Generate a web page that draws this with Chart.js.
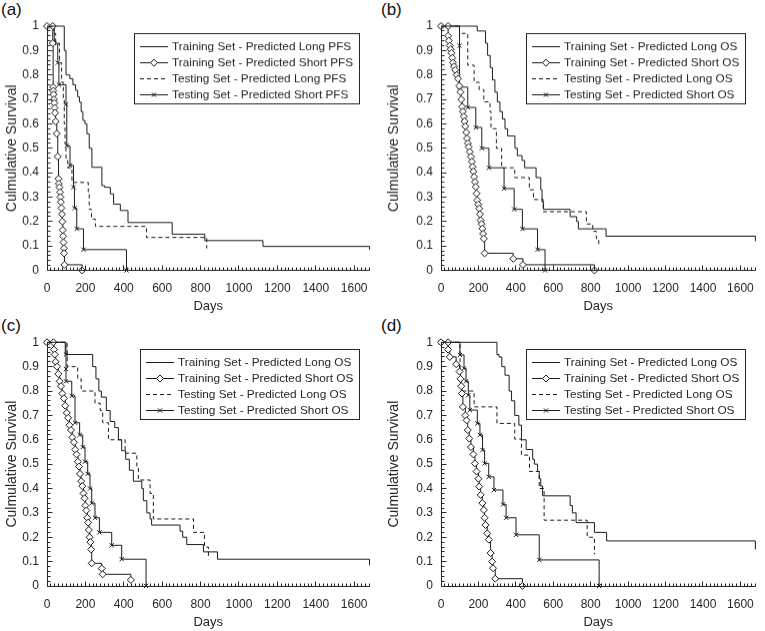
<!DOCTYPE html>
<html>
<head>
<meta charset="utf-8">
<script src="https://cdn.jsdelivr.net/npm/chart.js@4.4.1/dist/chart.umd.min.js"></script>
<style>
  body { margin: 0; background: #fff; width: 765px; height: 631px; position: relative; overflow: hidden;
         font-family: "Liberation Sans", Arial, sans-serif; }
  .panel { position: absolute; }
  .tag { position: absolute; font-size: 17px; line-height: 1; color: #111; }
</style>
</head>
<body>
<div class="tag" style="left:1px;top:1px">(a)</div>
<div class="tag" style="left:381px;top:1px">(b)</div>
<div class="tag" style="left:1px;top:317px">(c)</div>
<div class="tag" style="left:381px;top:317px">(d)</div>

<div class="panel" id="boxA"><canvas id="chartA"></canvas></div>
<div class="panel" id="boxB"><canvas id="chartB"></canvas></div>
<div class="panel" id="boxC"><canvas id="chartC"></canvas></div>
<div class="panel" id="boxD"><canvas id="chartD"></canvas></div>

<script>
// legend texts
const labelsPFS = ['Training Set - Predicted Long PFS', 'Training Set - Predicted Short PFS',
                   'Testing Set - Predicted Long PFS', 'Testing Set - Predicted Short PFS'];
const labelsOS = ['Training Set - Predicted Long OS', 'Training Set - Predicted Short OS',
                  'Testing Set - Predicted Long OS', 'Testing Set - Predicted Short OS'];

const xTicks = [0, 200, 400, 600, 800, 1000, 1200, 1400, 1600];
const yTicks = [0, 0.1, 0.2, 0.3, 0.4, 0.5, 0.6, 0.7, 0.8, 0.9, 1];

// (a) PFS
const daysTrainLongA = [0, 90, 99, 108, 119, 135, 149, 160, 169, 178, 187, 198, 208, 220, 234, 286, 300, 330, 347, 382, 422, 652, 822, 1125, 1680];
const survTrainLongA = [1, 0.9, 0.8, 0.8, 0.785, 0.76, 0.737, 0.71, 0.689, 0.65, 0.614, 0.6, 0.559, 0.5, 0.422, 0.347, 0.34, 0.313, 0.271, 0.245, 0.196, 0.148, 0.122, 0.098, 0.085];
const daysTrainShortA = [0, 30, 30, 32, 33, 34, 36, 38, 40, 42, 45, 51, 56, 60, 62, 65, 68, 70, 72, 75, 78, 80, 82, 84, 86, 88, 89, 91, 183];
const survTrainShortA = [1, 1, 0.93, 0.75, 0.735, 0.72, 0.70, 0.685, 0.665, 0.645, 0.61, 0.56, 0.466, 0.375, 0.355, 0.34, 0.32, 0.30, 0.28, 0.255, 0.23, 0.2, 0.165, 0.14, 0.115, 0.09, 0.07, 0.023, 0];
const daysTestLongA = [0, 33, 45, 65, 76, 85, 90, 94, 99, 108, 130, 215, 220, 232, 252, 518, 832];
const survTestLongA = [1, 0.97, 0.93, 0.85, 0.77, 0.7, 0.6, 0.52, 0.45, 0.42, 0.36, 0.32, 0.25, 0.21, 0.18, 0.135, 0.09];
const daysTestShortA = [0, 38, 56, 62, 99, 103, 120, 138, 143, 155, 190, 414];
const survTestShortA = [1, 0.93, 0.85, 0.76, 0.68, 0.51, 0.43, 0.34, 0.255, 0.17, 0.085, 0];

// (b) OS
const daysTrainLongB = [0, 194, 238, 249, 263, 275, 288, 301, 315, 328, 342, 356, 395, 408, 433, 447, 508, 533, 540, 548, 690, 725, 734, 882, 1680];
const survTrainLongB = [1, 0.98, 0.93, 0.88, 0.83, 0.78, 0.73, 0.69, 0.65, 0.62, 0.58, 0.55, 0.5, 0.47, 0.45, 0.42, 0.38, 0.33, 0.28, 0.25, 0.22, 0.2, 0.17, 0.14, 0.12];
const daysTrainShortB = [0, 38, 38, 42, 47, 52, 56, 60, 64, 70, 76, 84, 91, 98, 104, 108, 113, 117, 122, 126, 130, 135, 139, 144, 148, 154, 160, 165, 169, 173, 177, 182, 186, 190, 194, 199, 204, 208, 212, 217, 221, 225, 229, 233, 386, 438, 820];
const survTrainShortB = [1, 1, 0.96, 0.94, 0.92, 0.905, 0.89, 0.87, 0.85, 0.835, 0.82, 0.8, 0.785, 0.755, 0.73, 0.7, 0.67, 0.65, 0.63, 0.61, 0.59, 0.565, 0.54, 0.52, 0.505, 0.485, 0.465, 0.445, 0.424, 0.405, 0.383, 0.362, 0.342, 0.315, 0.287, 0.27, 0.253, 0.23, 0.205, 0.19, 0.171, 0.15, 0.13, 0.07, 0.048, 0.023, 0];
const daysTestLongB = [0, 99, 143, 177, 204, 229, 262, 267, 296, 324, 394, 472, 494, 546, 777, 811, 830, 843];
const survTestLongB = [1, 0.97, 0.84, 0.77, 0.74, 0.69, 0.65, 0.58, 0.5, 0.42, 0.38, 0.33, 0.29, 0.24, 0.19, 0.16, 0.13, 0.1];
const daysTestShortB = [0, 99, 99, 143, 186, 218, 256, 337, 391, 435, 516, 556];
const survTestShortB = [1, 0.92, 0.75, 0.667, 0.585, 0.5, 0.42, 0.335, 0.25, 0.17, 0.085, 0];

// (c) OS
const daysTrainLongC = [0, 95, 238, 255, 270, 283, 309, 329, 353, 372, 389, 410, 429, 450, 494, 502, 520, 537, 545, 693, 707, 728, 815, 888, 1680];
const survTrainLongC = [1, 0.95, 0.9, 0.85, 0.8, 0.775, 0.72, 0.675, 0.65, 0.6, 0.555, 0.52, 0.475, 0.43, 0.4, 0.35, 0.3, 0.275, 0.25, 0.225, 0.2, 0.17, 0.14, 0.11, 0.085];
const daysTrainShortC = [0, 33, 36, 40, 45, 52, 59, 66, 73, 80, 88, 95, 103, 110, 117, 125, 132, 140, 147, 154, 161, 167, 172, 178, 184, 190, 196, 200, 205, 210, 214, 218, 222, 226, 230, 233, 285, 290, 437];
const survTrainShortC = [1, 1, 0.97, 0.95, 0.92, 0.9, 0.87, 0.84, 0.82, 0.79, 0.77, 0.74, 0.71, 0.69, 0.66, 0.64, 0.61, 0.59, 0.56, 0.54, 0.51, 0.49, 0.46, 0.43, 0.41, 0.38, 0.36, 0.33, 0.31, 0.28, 0.26, 0.23, 0.2, 0.18, 0.15, 0.093, 0.072, 0.048, 0.025];
const daysTestLongC = [0, 105, 160, 178, 250, 277, 290, 320, 407, 468, 476, 537, 554, 763, 820, 841];
const survTestLongC = [1, 0.9, 0.85, 0.8, 0.75, 0.72, 0.67, 0.6, 0.545, 0.49, 0.435, 0.38, 0.275, 0.22, 0.16, 0.11];
const daysTestShortC = [0, 99, 99, 99, 129, 146, 170, 186, 198, 212, 224, 233, 250, 273, 337, 389, 516];
const survTestShortC = [1, 0.95, 0.89, 0.84, 0.78, 0.67, 0.62, 0.57, 0.51, 0.46, 0.4, 0.34, 0.28, 0.22, 0.167, 0.11, 0];

// (d) OS
const daysTrainLongD = [0, 299, 310, 325, 342, 364, 377, 394, 416, 430, 455, 490, 499, 516, 525, 533, 543, 690, 702, 722, 820, 885, 1680];
const survTrainLongD = [1, 0.95, 0.94, 0.9, 0.865, 0.8, 0.76, 0.7, 0.66, 0.6, 0.56, 0.52, 0.5, 0.47, 0.44, 0.41, 0.37, 0.33, 0.3, 0.26, 0.22, 0.185, 0.15];
const daysTrainShortD = [0, 38, 38, 47, 81, 99, 104, 108, 112, 117, 130, 137, 143, 151, 160, 173, 181, 190, 200, 204, 212, 221, 229, 233, 238, 247, 256, 265, 273, 278, 290, 435];
const survTrainShortD = [1, 1, 0.97, 0.94, 0.91, 0.88, 0.85, 0.82, 0.79, 0.735, 0.7, 0.68, 0.64, 0.605, 0.57, 0.54, 0.503, 0.47, 0.44, 0.408, 0.374, 0.34, 0.312, 0.28, 0.25, 0.216, 0.19, 0.135, 0.1, 0.073, 0.03, 0];
const daysTestLongD = [0, 102, 107, 177, 299, 394, 430, 473, 525, 551, 781, 820];
const survTestLongD = [1, 0.867, 0.8, 0.735, 0.667, 0.603, 0.537, 0.47, 0.4, 0.27, 0.2, 0.13];
const daysTestShortD = [0, 101, 123, 134, 146, 154, 194, 208, 222, 233, 255, 283, 331, 348, 401, 525, 845];
const survTestShortD = [1, 0.948, 0.893, 0.84, 0.783, 0.722, 0.667, 0.62, 0.558, 0.503, 0.448, 0.394, 0.335, 0.28, 0.21, 0.107, 0];

const FONT = '"Liberation Sans", Arial, sans-serif';
const INK = '#262626';
const LINE = '#1c1c1c';

// axes lines with inward major/minor ticks (MATLAB look)
const axisTicks = {
  id: 'axisTicks',
  afterDraw(chart) {
    const { ctx, chartArea: a } = chart;
    const x = chart.scales.x, y = chart.scales.y;
    const ax = Math.floor(a.left) + 0.5, ay = Math.floor(a.bottom) + 0.5;
    ctx.save();
    ctx.setLineDash([]);
    ctx.strokeStyle = INK;
    ctx.lineWidth = 1;
    ctx.beginPath();
    ctx.moveTo(ax, Math.floor(a.top) + 0.5);
    ctx.lineTo(ax, ay);
    ctx.lineTo(Math.floor(a.right) + 0.5, ay);
    ctx.stroke();

    ctx.beginPath();
    for (let d = 0; d <= 1680; d += 20) {
      const px = Math.floor(x.getPixelForValue(d)) + 0.5;
      const len = d % 200 === 0 ? 5 : 3;
      ctx.moveTo(px, ay);
      ctx.lineTo(px, ay - len);
    }
    for (let k = 0; k <= 50; k++) {
      const py = Math.floor(y.getPixelForValue(k / 50)) + 0.5;
      const len = k % 5 === 0 ? 5 : 3;
      ctx.moveTo(ax, py);
      ctx.lineTo(ax + len, py);
    }
    ctx.stroke();
    ctx.restore();
  }
};

// boxed legend in the upper right of the plot
const legendBox = {
  id: 'legendBox',
  afterDraw(chart) {
    const { ctx, chartArea: a } = chart;
    const sets = chart.data.datasets;
    ctx.save();
    ctx.font = '11.8px ' + FONT;
    const textW = Math.max(...sets.map(s => ctx.measureText(s.label).width));
    const w = Math.round(6 + 28 + 4 + textW + 6);
    const h = 70;
    const right = Math.floor(a.right - 10);
    const top = Math.floor(a.top + 7);
    const left = right - w;
    ctx.fillStyle = '#fff';
    ctx.fillRect(left, top, w, h);
    ctx.strokeStyle = INK;
    ctx.lineWidth = 1;
    ctx.strokeRect(left + 0.5, top + 0.5, w, h);
    sets.forEach((s, i) => {
      const cy = Math.round(top + 12.7 + i * 16) + 0.5;
      ctx.strokeStyle = LINE;
      ctx.setLineDash(s.borderDash || []);
      ctx.beginPath();
      ctx.moveTo(left + 6, cy);
      ctx.lineTo(left + 34, cy);
      ctx.stroke();
      ctx.setLineDash([]);
      if (s.pointRadius > 0) {
        ctx.fillStyle = '#fff';
        ctx.strokeStyle = LINE;
        Chart.helpers.drawPoint(ctx, { pointStyle: s.pointStyle, radius: s.pointRadius, borderWidth: 1, rotation: 0 }, left + 20, cy);
      }
      ctx.fillStyle = INK;
      ctx.textBaseline = 'middle';
      ctx.fillText(s.label, left + 38, cy + 0.5);
    });
    ctx.restore();
  }
};

const seriesLook = [
  { borderDash: [], pointStyle: 'circle', pointRadius: 0 },
  { borderDash: [], pointStyle: 'rectRot', pointRadius: 3.5 },
  { borderDash: [4, 3], pointStyle: 'circle', pointRadius: 0 },
  { borderDash: [], pointStyle: 'crossRot', pointRadius: 3 }
];

function makePanel(canvasId, boxId, geo, labels, series) {
  const box = document.getElementById(boxId);
  box.style.left = geo.L + 'px';
  box.style.top = geo.T + 'px';
  box.style.width = geo.W + 'px';
  box.style.height = (geo.bottom + geo.xH - geo.T) + 'px';

  const datasets = series.map((s, i) => ({
    label: labels[i],
    data: s[0].map((d, j) => ({ x: d, y: s[1][j] })),
    stepped: 'before',
    borderColor: LINE,
    borderWidth: 1,
    borderDash: seriesLook[i].borderDash,
    pointStyle: seriesLook[i].pointStyle,
    pointRadius: seriesLook[i].pointRadius,
    pointBackgroundColor: '#fff',
    pointBorderColor: LINE,
    pointBorderWidth: 1,
    fill: false,
    clip: false
  }));

  new Chart(document.getElementById(canvasId), {
    type: 'line',
    data: { datasets },
    plugins: [axisTicks, legendBox],
    options: {
      responsive: true,
      maintainAspectRatio: false,
      animation: false,
      events: [],
      layout: { padding: { top: geo.top - geo.T, right: geo.L + geo.W - geo.right, left: 0, bottom: 0 } },
      plugins: { legend: { display: false }, tooltip: { enabled: false } },
      scales: {
        x: {
          type: 'linear', min: 0, max: 1680,
          grid: { display: false, drawTicks: false },
          border: { display: false },
          afterBuildTicks: s => { s.ticks = xTicks.map(v => ({ value: v })); },
          ticks: { color: INK, font: { family: FONT, size: 12 }, padding: 11, maxRotation: 0, autoSkip: false,
                   callback: v => String(v) },
          title: { display: true, text: 'Days', color: INK, font: { family: FONT, size: 13 }, padding: { top: 0, bottom: 0 } },
          afterFit: s => { s.height = geo.xH; }
        },
        y: {
          type: 'linear', min: 0, max: 1,
          grid: { display: false, drawTicks: false },
          border: { display: false },
          afterBuildTicks: s => { s.ticks = yTicks.map(v => ({ value: v })); },
          ticks: { color: INK, font: { family: FONT, size: 12 }, padding: 8, autoSkip: false,
                   callback: v => String(v) },
          title: { display: true, text: 'Culmulative Survival', color: INK, font: { family: FONT, size: 14 }, padding: { top: 4, bottom: 0 } },
          afterFit: s => { s.width = geo.left - geo.L; }
        }
      }
    }
  });
}

makePanel('chartA', 'boxA', { L: 0, T: 0, W: 382, left: 47, right: 369.5, top: 26, bottom: 269.5, xH: 44 }, labelsPFS, [
  [daysTrainLongA, survTrainLongA], [daysTrainShortA, survTrainShortA],
  [daysTestLongA, survTestLongA], [daysTestShortA, survTestShortA]
]);
makePanel('chartB', 'boxB', { L: 382, T: 0, W: 383, left: 441, right: 763, top: 26, bottom: 269.5, xH: 44 }, labelsOS, [
  [daysTrainLongB, survTrainLongB], [daysTrainShortB, survTrainShortB],
  [daysTestLongB, survTestLongB], [daysTestShortB, survTestShortB]
]);
makePanel('chartC', 'boxC', { L: 0, T: 316, W: 382, left: 47, right: 369.5, top: 342.3, bottom: 586, xH: 44 }, labelsOS, [
  [daysTrainLongC, survTrainLongC], [daysTrainShortC, survTrainShortC],
  [daysTestLongC, survTestLongC], [daysTestShortC, survTestShortC]
]);
makePanel('chartD', 'boxD', { L: 382, T: 316, W: 383, left: 441, right: 763, top: 342.3, bottom: 586, xH: 44 }, labelsOS, [
  [daysTrainLongD, survTrainLongD], [daysTrainShortD, survTrainShortD],
  [daysTestLongD, survTestLongD], [daysTestShortD, survTestShortD]
]);
</script>
</body>
</html>
